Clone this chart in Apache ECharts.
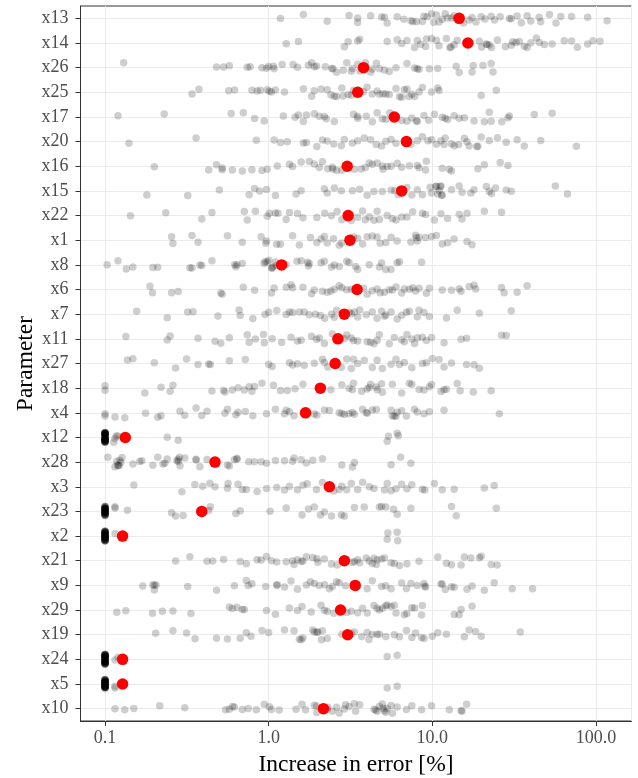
<!DOCTYPE html>
<html>
<head>
<meta charset="utf-8">
<script src="https://cdn.jsdelivr.net/npm/echarts@6/dist/echarts.min.js"></script>
<style>
html,body{margin:0;padding:0;background:#fff;}
#chart{width:638px;height:778px;}
</style>
</head>
<body>
<div id="chart"></div>
<script>
// Categories, top to bottom
const categories = ['x13','x14','x26','x25','x17','x20','x16','x15','x22','x1','x8','x6','x7','x11','x27','x18','x4','x12','x28','x3','x23','x2','x21','x9','x29','x19','x24','x5','x10'];

// Red points (one per parameter, same order as categories)
const centers = [14.6, 16.5, 3.8, 3.5, 5.86, 6.95, 3.02, 6.5, 3.06, 3.14, 1.2, 3.47, 2.9, 2.65, 2.55, 2.07, 1.68, 0.133, 0.47, 2.35, 0.39, 0.128, 2.9, 3.38, 2.75, 3.04, 0.128, 0.128, 2.16];

// Individual observations per parameter (increase in error, %)
const x13 = [1.18,1.63,2.28,3.1,3.5,3.5,4.2,4.9,5.1,5.3,6.1,6.7,7.4,7.6,8.0,8.7,8.9,9.3,9.9,10.2,10.6,11.0,11.5,12.0,12.4,13.1,13.6,14.0,15.5,16.8,17.5,18.5,19.9,21,22.9,24,26,29.6,30.4,33,35,38,40,45,46,52,57,61,71,89,117];
const x14 = [1.28,1.52,2.9,3.06,3.5,3.6,5.3,6.1,6.5,7.0,7.8,8.1,8.5,9.1,9.2,9.9,10.6,11.0,12.2,12.8,13,13.6,14.2,19.4,20,21.4,21.6,22.3,23,25,28,30.4,31,32.5,34,36.5,38,40,43.3,45,48.4,54,64,71,77,89,96,106];
const x26 = [0.13,0.48,0.53,0.575,0.74,0.77,0.91,0.97,1.0,1.07,1.08,1.21,1.41,1.5,1.75,1.83,1.9,1.96,2.22,2.43,2.47,2.6,2.86,3.0,3.2,3.25,3.5,3.6,3.9,4.2,4.3,4.55,4.75,5.1,5.46,6.0,7.0,7.8,8.1,8.3,9.6,10.8,14.0,14.6,17.5,17.8,20.4,22.9,23.5];
const x25 = [0.34,0.375,0.57,0.62,0.79,0.85,0.89,0.98,1.01,1.04,1.1,1.25,1.63,1.83,1.9,2.09,2.28,2.4,2.52,2.6,2.8,2.85,3.06,3.2,3.3,3.8,4.0,4.3,4.6,4.75,5.0,5.2,5.46,6.0,6.3,6.5,6.75,7.0,7.2,7.5,7.8,8.3,8.7,9.9,10.8,11.0,19.9,24.6];
const x17 = [0.12,0.23,0.59,0.7,0.82,0.94,1.23,1.45,1.52,1.63,1.7,1.9,2.04,2.19,2.25,2.52,3.3,3.5,3.5,3.95,4.3,4.6,4.95,5.2,5.5,6.0,6.5,7.0,7.5,8.0,8.1,8.9,9.5,10.3,11.5,12,12.4,13.6,14.6,15.7,18.0,20.8,22.3,22.9,26.6,29,29.6,42,54];
const x20 = [0.14,0.36,0.84,1.08,1.18,1.3,1.63,1.7,1.97,2.13,2.28,2.5,2.78,2.9,3.25,3.5,3.84,4.2,4.55,4.9,5.2,5.6,6.0,7.4,8.1,8.7,9.4,9.9,10.6,11.3,11.8,12,13.1,13.6,14.5,15.7,16.3,16.8,18.7,19.0,19.9,22.3,25,28.3,33,36.5,46,76];
const x16 = [0.2,0.43,0.48,0.52,0.52,0.6,0.69,0.79,0.91,0.98,1.13,1.34,1.4,1.58,1.77,1.9,2.04,2.13,2.3,2.45,2.47,2.6,2.8,3.34,3.68,3.9,4.12,4.3,4.6,4.95,5.0,5.3,5.6,6.1,6.5,7.24,8.1,8.3,9.1,9.2,11.5,12.7,13.1,19,20.8,26,29];
const x15 = [0.18,0.32,0.5,0.76,0.82,0.88,0.97,1.1,1.47,1.58,2.19,2.28,2.52,2.78,3.25,3.6,4.0,4.4,4.95,5.6,5.9,6.2,7.0,7.5,8.1,8.7,9.7,9.9,10.5,10.6,10.8,11.0,11.2,11.3,11.4,11.5,13.1,14.6,15.2,17.2,18.0,21.4,22.3,23.0,24.3,28.3,30.4,56.5,67];
const x22 = [0.143,0.235,0.39,0.45,0.71,0.74,0.83,0.98,1.01,1.1,1.14,1.28,1.34,1.5,1.62,1.97,2.2,2.42,2.62,2.8,3.2,3.5,3.75,3.9,4.12,4.4,4.6,4.75,5.3,5.7,6.0,6.5,7.0,7.6,8.7,9.1,10.3,11.3,12.4,14.6,15.2,16.3,20.8,26.5];
const x1 = [0.255,0.26,0.34,0.37,0.56,0.69,0.9,0.96,0.97,1.12,1.18,1.4,1.54,1.8,1.97,2.09,2.19,2.28,2.49,2.7,2.8,3.3,3.5,3.75,4.0,4.3,4.6,4.8,5.2,5.6,6.1,7.4,7.9,8.0,8.1,8.3,9.1,9.9,10.6,11.5,12.4,13.6,16.3,17.5];
const x8 = [0.103,0.12,0.135,0.148,0.196,0.21,0.33,0.34,0.38,0.39,0.45,0.62,0.63,0.64,0.69,0.94,0.95,0.98,1.0,1.04,1.05,1.06,1.1,1.12,1.28,1.49,1.58,1.73,1.75,1.77,2.09,2.19,2.42,2.52,2.7,3.0,3.1,3.4,3.5,4.12,4.75,4.9,5.2,5.6,6.1,6.3,8.6];
const x6 = [0.188,0.195,0.255,0.28,0.51,0.52,0.7,0.82,1.04,1.08,1.28,1.37,1.4,1.62,1.83,1.9,2.13,2.28,2.4,2.52,2.7,2.8,3.0,3.2,3.8,4.0,4.3,4.6,4.8,5.1,5.46,5.7,6.0,6.5,6.75,7.24,7.6,7.9,8.3,9.2,9.6,11.5,13.1,14.6,15.0,16.8,18.0,18.4,26.5,27.5,33,38];
const x7 = [0.156,0.24,0.32,0.345,0.49,0.66,0.67,0.8,0.95,1.0,1.12,1.28,1.34,1.4,1.54,1.65,1.77,1.93,2.07,2.2,2.42,2.52,2.6,3.1,3.2,3.34,3.5,3.6,3.95,4.3,4.6,4.9,5.1,5.2,5.6,6.1,6.5,6.95,7.24,8.1,8.3,8.9,9.6,12.2,14.2,19.4,30.4];
const x11 = [0.134,0.24,0.25,0.37,0.47,0.51,0.575,0.74,0.76,0.83,0.93,0.94,1.05,1.2,1.37,1.5,1.58,1.83,1.96,2.04,2.19,2.45,2.9,3.0,3.2,3.3,3.5,4.0,4.2,4.4,4.6,4.75,5.46,5.86,6.5,6.75,7.0,7.5,7.8,8.1,8.7,9.2,9.9,11.8,15.0,16.2,26.5,28.3];
const x27 = [0.137,0.148,0.2,0.27,0.315,0.37,0.43,0.44,0.575,0.72,1.0,1.05,1.34,1.4,1.5,1.65,1.9,2.13,2.19,2.3,2.78,3.0,3.2,3.3,3.5,3.84,4.3,4.6,4.95,5.6,6.0,6.3,6.75,7.5,8.7,9.2,10.0,11.0,11.8,13.1,16.2,18.0,19.4];
const x18 = [0.1,0.1,0.175,0.22,0.25,0.26,0.45,0.53,0.54,0.6,0.65,0.71,0.76,0.79,0.82,0.91,1.07,1.18,1.3,1.45,1.62,2.4,2.8,3.1,3.25,3.3,3.7,4.0,4.12,4.2,4.55,4.6,4.9,4.95,5.7,6.5,7.24,7.5,8.3,8.9,9.6,9.9,11.3,11.8,12.2,14.2,14.8,17.8,22.9];
const x4 = [0.1,0.1,0.115,0.132,0.177,0.21,0.22,0.287,0.307,0.36,0.39,0.42,0.54,0.56,0.63,0.65,0.72,0.8,0.97,1.1,1.25,1.28,1.34,1.43,1.9,1.97,2.19,2.35,2.7,2.8,2.9,3.1,3.25,3.34,3.75,3.95,4.0,4.3,4.55,5.6,5.7,5.86,6.0,6.1,6.5,6.95,7.77,8.1,8.9,9.6,11.8,25.7];
const x12 = [0.1,0.1,0.1,0.1,0.1,0.1,0.1,0.1,0.1,0.1,
             0.1,0.1,0.1,0.1,0.1,0.1,0.1,0.1,0.1,0.1,
             0.1,0.1,0.1,0.1,0.1,0.1,0.1,0.1,0.1,0.1,
             0.1,0.1,0.1,0.1,0.1,0.1,0.1,0.1,0.1,0.1,
             0.113,0.115,0.117,0.12,0.24,0.28,5.3,5.4,6.1,6.2];
const x28 = [0.104,0.115,0.118,0.12,0.12,0.122,0.123,0.125,0.127,0.148,0.163,0.168,0.196,0.21,0.226,0.232,0.24,0.275,0.28,0.28,0.285,0.287,0.307,0.36,0.36,0.38,0.42,0.56,0.575,0.617,0.64,0.64,0.755,0.818,0.9,0.97,1.1,1.25,1.4,1.43,1.58,1.7,1.86,2.13,2.8,3.25,3.34,5.6,6.4,7.4];
const x3 = [0.15,0.295,0.354,0.395,0.437,0.47,0.56,0.565,0.65,0.69,0.73,0.85,0.97,1.12,1.25,1.34,1.5,1.62,1.72,1.96,2.13,2.5,2.7,2.8,3.0,3.2,3.5,3.75,4.12,4.4,5.1,5.3,5.6,6.0,6.5,7.0,7.5,8.7,9.0,10.3,11.5,13.6,20.8,23.9];
const x23 = [0.1,0.1,0.1,0.1,0.1,0.1,0.1,0.1,0.1,0.1,
             0.1,0.1,0.1,0.1,0.1,0.1,0.1,0.1,0.1,0.1,
             0.1,0.1,0.1,0.1,0.1,0.1,0.1,0.1,0.1,0.1,
             0.1,0.1,0.1,
             0.115,0.115,0.137,0.255,0.27,0.3,0.43,0.44,0.63,0.67,1.02,1.28,1.6,1.75,1.9,2.07,2.19,2.42,2.78,2.9,3.34,3.84,4.75,4.9,5.2,5.8,6.1,7.4,13.1,14.0,24.6];
const x2 = [0.1,0.1,0.1,0.1,0.1,0.1,0.1,0.1,0.1,0.1,
            0.1,0.1,0.1,0.1,0.1,0.1,0.1,0.1,0.1,0.1,
            0.1,0.1,0.1,0.1,0.1,0.1,0.1,0.1,0.1,0.1,
            0.1,0.1,0.1,0.1,0.1,0.1,0.1,0.1,0.1,0.1,
            0.115,5.3,5.35,6.1,6.15];
const x21 = [0.27,0.33,0.42,0.455,0.53,0.67,0.73,0.85,0.9,0.97,1.04,1.12,1.28,1.4,1.43,1.5,1.58,1.62,1.7,1.86,1.97,2.0,2.19,2.42,2.62,3.0,3.25,3.5,3.34,3.6,3.95,4.12,4.3,4.4,4.55,4.6,4.9,5.1,5.6,5.86,6.3,7.0,8.3,10.8,12.2,13.1,15.0,15.7,17.2,19.4,19.9,22.9,24.9];
const x9 = [0.17,0.196,0.2,0.2,0.205,0.32,0.48,0.617,0.73,0.75,0.79,0.96,1.12,1.13,1.25,1.37,1.5,1.7,1.8,1.9,2.04,2.2,2.35,2.45,2.6,2.7,2.95,4.0,4.3,4.9,5.2,5.6,6.5,6.95,7.4,8.1,8.9,9.0,9.1,11.3,11.5,12.0,13.1,13.6,16.3,17.5,20.8,23.9,30.8,41];
const x29 = [0.118,0.134,0.195,0.224,0.26,0.335,0.575,0.6,0.64,0.69,0.71,0.97,1.1,1.34,1.5,1.6,1.82,2.09,2.19,2.28,2.5,3.0,3.2,3.5,3.75,4.0,4.4,4.6,4.75,4.95,5.2,5.3,5.6,5.86,6.0,6.75,7.0,7.5,7.8,8.6,8.7,13.6,14.6,15.0,17.5];
const x19 = [0.204,0.26,0.315,0.355,0.48,0.56,0.67,0.73,0.78,0.91,1.0,1.25,1.43,1.54,1.58,1.62,1.86,1.9,1.97,2.0,2.1,2.13,2.28,2.8,3.2,3.34,3.7,4.0,4.1,4.3,4.6,4.75,5.2,5.86,6.3,6.95,7.5,7.9,8.6,8.9,10.0,10.8,12.2,15.7,16.8,18.4,19.9,34.5];
const x24 = [0.1,0.1,0.1,0.1,0.1,0.1,0.1,0.1,0.1,0.1,
             0.1,0.1,0.1,0.1,0.1,0.1,0.1,0.1,0.1,0.1,
             0.1,0.1,0.1,0.1,0.1,0.1,0.1,0.1,0.1,0.1,
             0.1,0.1,0.1,0.1,0.1,0.1,0.1,0.1,0.1,0.1,
             0.115,0.12,5.3,6.1];
const x5 = [0.1,0.1,0.1,0.1,0.1,0.1,0.1,0.1,0.1,0.1,
            0.1,0.1,0.1,0.1,0.1,0.1,0.1,0.1,0.1,0.1,
            0.1,0.1,0.1,0.1,0.1,0.1,0.1,0.1,0.1,0.1,
            0.1,0.1,0.1,0.1,0.1,0.1,0.1,0.1,0.1,0.1,
            0.115,0.115,5.3,6.1];
const x10 = [0.115,0.132,0.15,0.216,0.307,0.545,0.575,0.6,0.617,0.69,0.75,0.84,0.94,1.01,1.04,1.16,1.47,1.6,1.68,1.9,1.96,1.97,2.2,2.28,2.3,2.45,2.6,2.7,2.9,2.95,3.1,3.4,3.34,3.6,4.4,4.5,4.6,4.75,4.95,5.0,5.1,5.2,5.3,5.6,5.7,6.1,6.95,7.5,8.6,9.9,12.7,15.0,15.2,16.2];

const observations = {x13,x14,x26,x25,x17,x20,x16,x15,x22,x1,x8,x6,x7,x11,x27,x18,x4,x12,x28,x3,x23,x2,x21,x9,x29,x19,x24,x5,x10};

const FONT = "'Liberation Serif', 'DejaVu Serif', serif";

const grayData = [];
categories.forEach(c => observations[c].forEach(v => grayData.push([v, c])));
const redData = categories.map((c, i) => [centers[i], c]);

const chart = echarts.init(document.getElementById('chart'), null, {renderer: 'canvas'});
chart.setOption({
  animation: false,
  backgroundColor: '#ffffff',
  grid: {
    left: 80.5, right: 6.5, top: 6, bottom: 57,
    show: true, borderColor: '#333333', borderWidth: 1,
    outerBoundsMode: 'none'
  },
  xAxis: {
    type: 'log', logBase: 10, min: 0.0708, max: 165,
    name: 'Increase in error [%]', nameLocation: 'middle', nameGap: 32,
    nameMoveOverlap: false,
    nameTextStyle: {fontFamily: FONT, fontSize: 23.5, color: '#000000'},
    axisLine: {show: true, lineStyle: {color: '#333333', width: 1}},
    axisTick: {show: true, length: 5, lineStyle: {color: '#333333', width: 1}},
    axisLabel: {
      fontFamily: FONT, fontSize: 18, color: '#4d4d4d', margin: 8,
      showMinLabel: false, showMaxLabel: false,
      formatter: v => Number(v).toFixed(1)
    },
    splitLine: {show: true, lineStyle: {color: '#ebebeb', width: 1}},
    minorSplitLine: {show: false}
  },
  yAxis: [{
    type: 'category', data: categories, inverse: true,
    jitter: 10, jitterOverlap: true,
    name: 'Parameter', nameLocation: 'middle', nameGap: 43, nameRotate: 90,
    nameMoveOverlap: false,
    nameTextStyle: {fontFamily: FONT, fontSize: 23.5, color: '#000000'},
    axisLine: {show: true, lineStyle: {color: '#333333', width: 1}},
    axisTick: {show: true, alignWithLabel: true, interval: 0, length: 5, lineStyle: {color: '#333333', width: 1}},
    axisLabel: {fontFamily: FONT, fontSize: 18, color: '#4d4d4d', margin: 12, interval: 0},
    splitLine: {show: true, alignWithLabel: true, interval: 0, lineStyle: {color: '#ebebeb', width: 1}}
  }, {
    type: 'category', data: categories, inverse: true, show: false
  }],
  series: [{
    type: 'scatter', yAxisIndex: 0, data: grayData,
    symbol: 'circle', symbolSize: 7.5,
    itemStyle: {color: 'rgba(0,0,0,0.24)', borderWidth: 0},
    z: 2
  }, {
    type: 'scatter', yAxisIndex: 1, data: redData,
    symbol: 'circle', symbolSize: 11.5,
    itemStyle: {color: '#ff0000', borderWidth: 0, opacity: 1},
    z: 3
  }]
});
</script>
</body>
</html>
